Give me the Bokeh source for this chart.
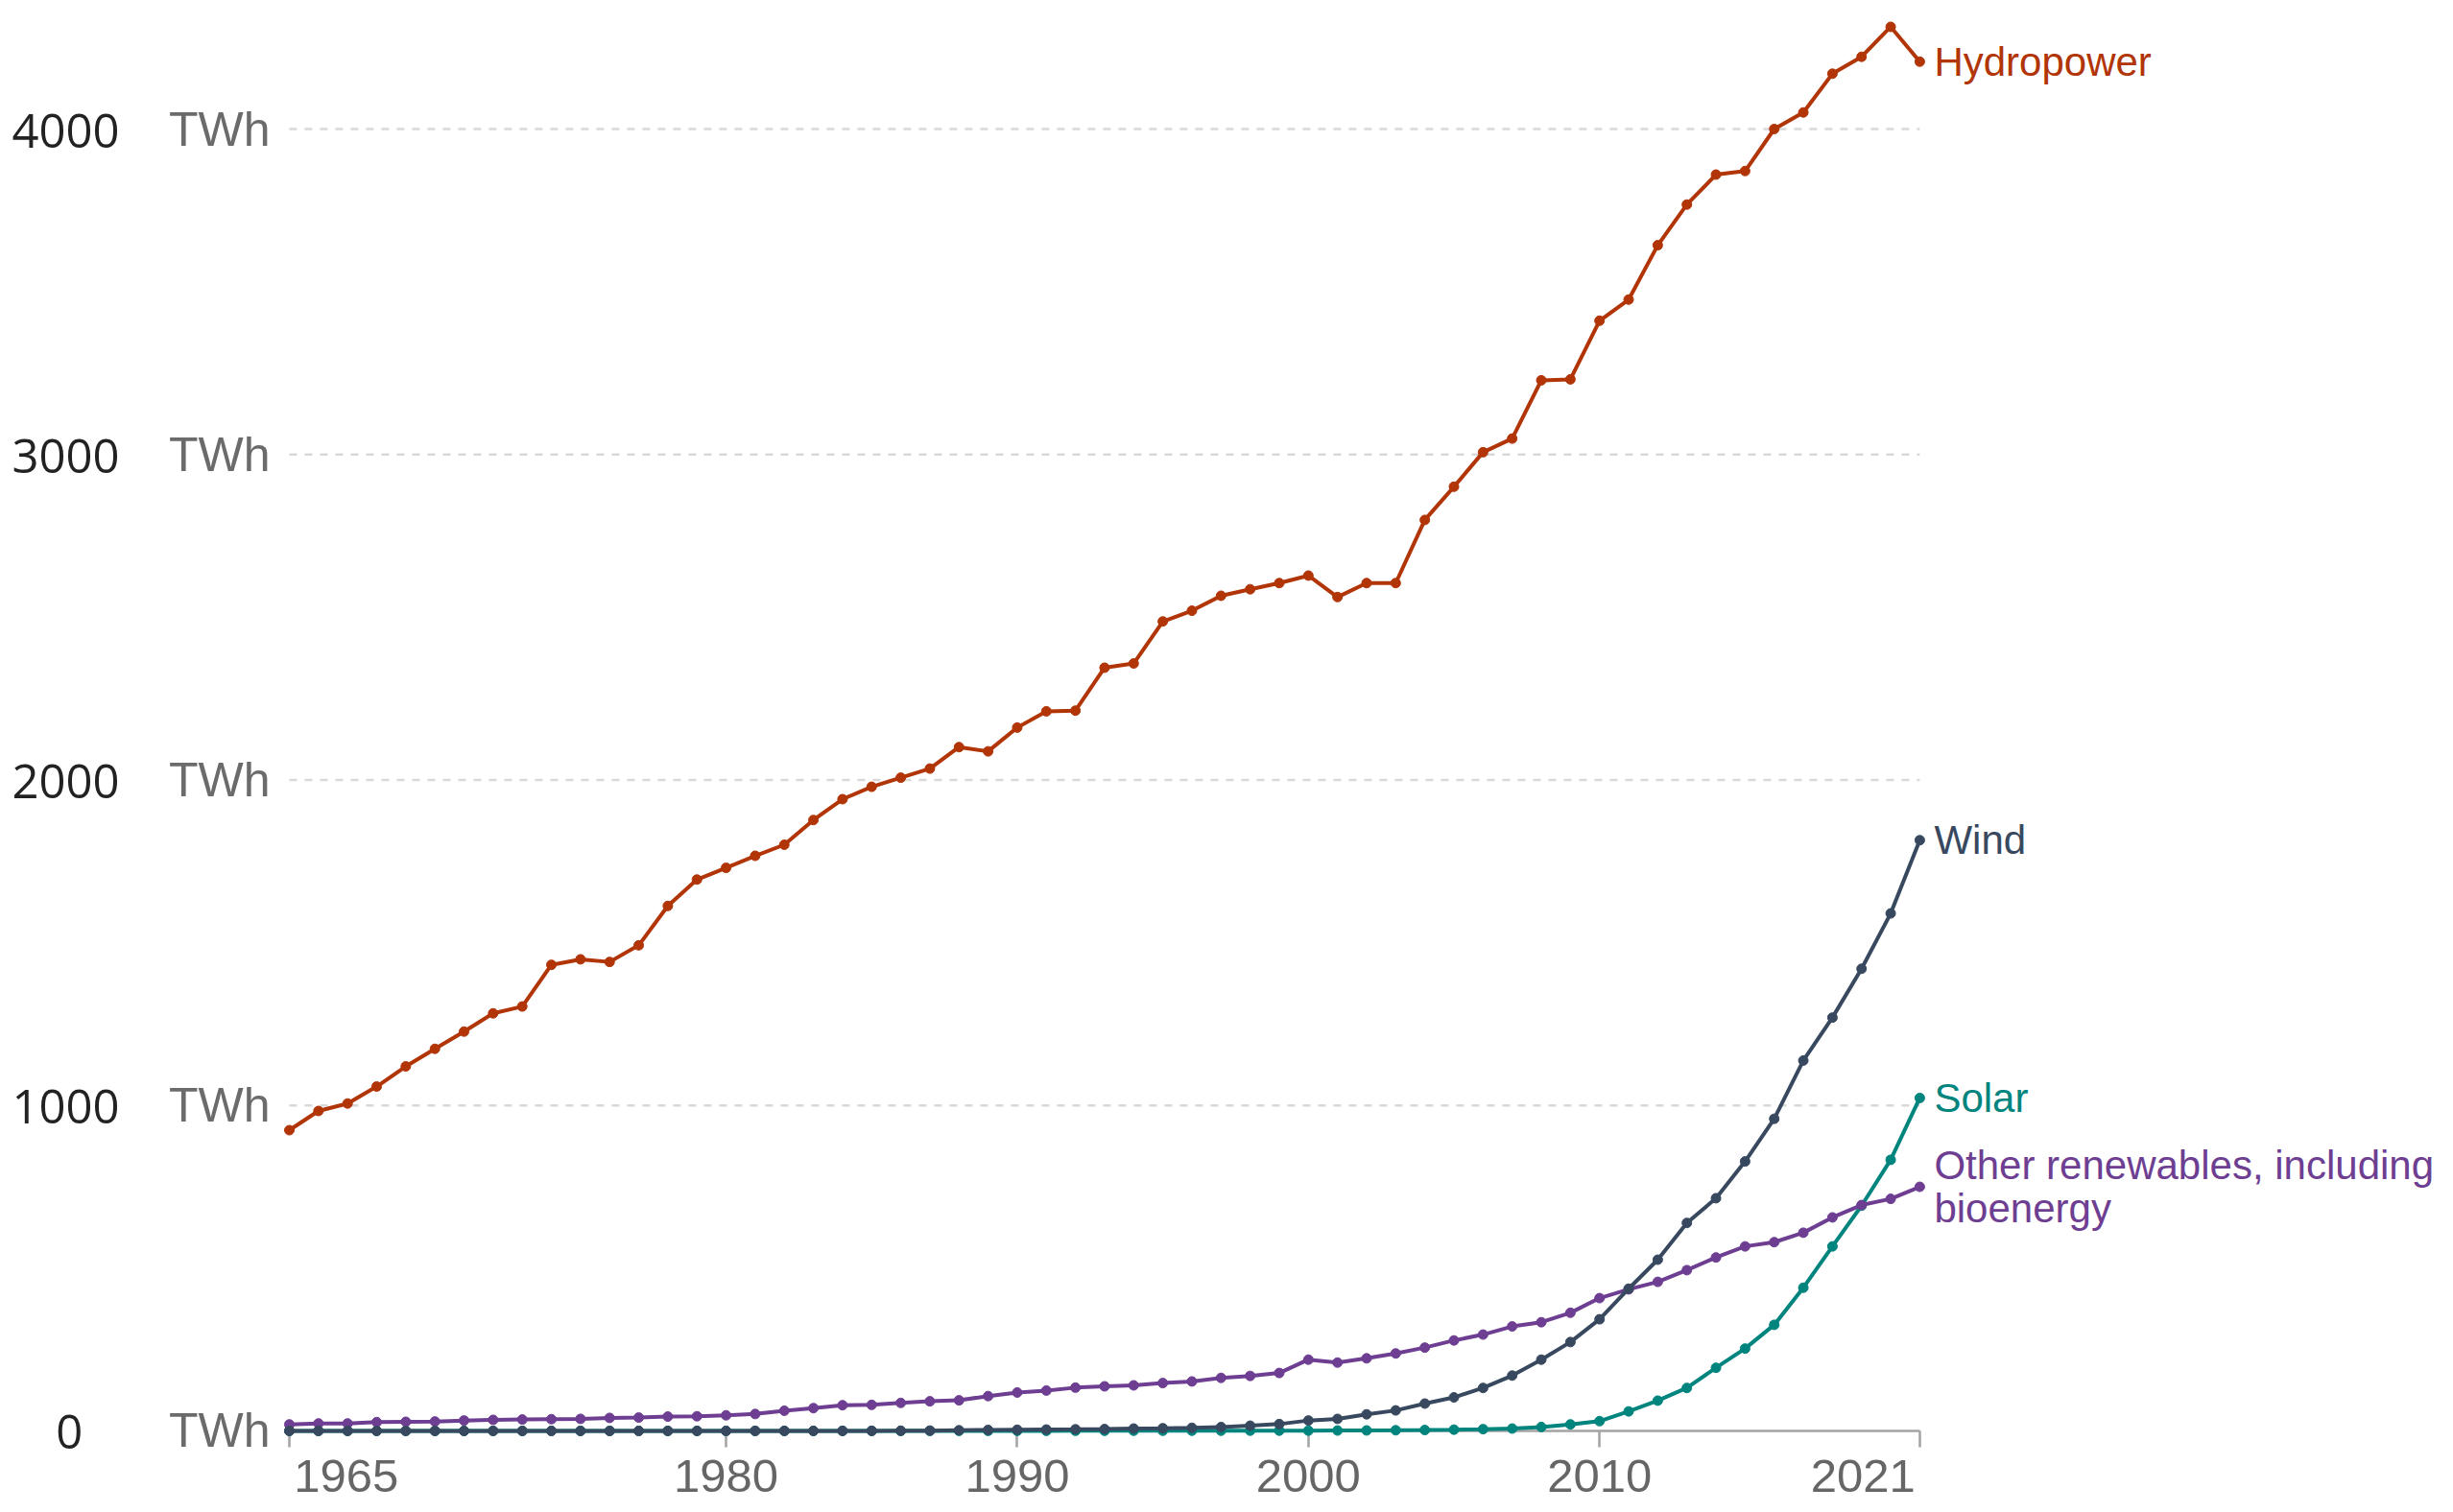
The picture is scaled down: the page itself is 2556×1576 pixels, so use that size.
from bokeh.plotting import figure
from bokeh.models import Range1d, LinearAxis, FixedTicker
from bokeh.embed import file_html
from bokeh.resources import INLINE
from bokeh.core.properties import value

# ---------------- data ----------------
years = list(range(1965, 2022))

hydropower = [924, 983, 1006, 1058, 1120, 1174, 1227, 1283, 1304, 1432,
              1449, 1441, 1492, 1613, 1694, 1730, 1767, 1801, 1877, 1941,
              1979, 2007, 2035, 2101, 2088, 2161, 2211, 2213, 2345, 2358,
              2487, 2520, 2566, 2586, 2605, 2628, 2562, 2605, 2605, 2799,
              2901, 3007, 3049, 3228, 3231, 3411, 3476, 3643, 3768, 3860,
              3871, 4000, 4051, 4170, 4222, 4314, 4207]

wind = [0, 0, 0, 0, 0, 0, 0, 0, 0, 0,
        0, 0, 0, 0, 0, 0, 0, 0, 0.1, 0.2,
        0.3, 0.6, 1, 2, 3, 3.6, 4.2, 4.9, 5.7, 7.3,
        8.3, 9.5, 12, 16, 21, 32, 37, 51, 63, 84,
        103, 132, 170, 219, 273, 343, 437, 526, 639, 715,
        828, 959, 1138, 1270, 1420, 1590, 1815]

solar = [0, 0, 0, 0, 0, 0, 0, 0, 0, 0,
         0, 0, 0, 0, 0, 0, 0, 0, 0, 0,
         0.1, 0.1, 0.1, 0.2, 0.2, 0.3, 0.3, 0.4, 0.4, 0.5,
         0.5, 0.6, 0.7, 0.8, 0.9, 1.0, 1.2, 1.5, 2.0, 2.7,
         3.9, 5.4, 7.3, 12, 20, 30, 60, 93, 132, 194,
         253, 326, 440, 567, 692, 833, 1023]

other = [20, 23, 23, 27, 28, 29, 32, 34, 35, 36,
         37, 40, 41, 44, 45, 48, 52, 62, 70, 79,
         80, 86, 91, 94, 107, 118, 124, 133, 137, 140,
         147, 152, 163, 169, 178, 219, 210, 223, 238, 256,
         278, 296, 321, 334, 363, 408, 435, 458, 494, 533,
         567, 580, 609, 656, 694, 713, 750]

series_names = ["Hydropower", "Wind", "Solar", "Other renewables, including\nbioenergy"]
series_colors = ["#b13507", "#38495f", "#00847e", "#6d3e91"]

y_ticks = [0, 1000, 2000, 3000, 4000]
y_tick_labels = ["0", "1000", "2000", "3000", "4000"]
y_unit = "TWh"
x_ticks = [1965, 1980, 1990, 2000, 2010, 2021]
x_tick_labels = ["1965", "1980", "1990", "2000", "2010", "2021"]

# ---------------- style ----------------
SANS = "Liberation Sans"
NUMFONT = "Open Sans"

p = figure(width=2556, height=1576, output_backend="svg", toolbar_location=None,
           x_range=Range1d(1964.407, 2039.33), y_range=Range1d(-250.6, 4395.0),
           x_axis_location=None, y_axis_location=None,
           min_border_left=283, min_border_right=0, min_border_top=0, min_border_bottom=0)
p.outline_line_color = None
p.grid.visible = False
p.background_fill_color = "white"
p.border_fill_color = "white"

# dashed horizontal grid lines spanning the data years only
grid_vals = y_ticks[1:]
p.segment(x0=[years[0]] * len(grid_vals), x1=[years[-1]] * len(grid_vals),
          y0=grid_vals, y1=grid_vals, line_color="#d9d9d9", line_width=2.5,
          line_dash="8 8", level="underlay")

# y axes: unit labels (inner) and numbers (outer)
twh_axis = LinearAxis(ticker=FixedTicker(ticks=y_ticks),
                      major_label_overrides={t: y_unit for t in y_ticks},
                      axis_line_color=None, major_tick_line_color=None,
                      minor_tick_line_color=None, major_tick_out=0, major_tick_in=0,
                      major_label_standoff=2,
                      major_label_text_font=SANS, major_label_text_font_size="50px",
                      major_label_text_color="#6b6b6b")
p.add_layout(twh_axis, "left")

# numbers are centred in their column in the reference: pad the short one
num_labels = [lab + "\u00a0" * (4 - len(lab)) * 1 if len(lab) < 4 else lab for lab in y_tick_labels]
num_labels = [lab if len(lab) == 4 else y_tick_labels[i] + "\u00a0\u00a0\u00a0\u00a0"
              for i, lab in enumerate(num_labels)]
num_axis = LinearAxis(ticker=FixedTicker(ticks=y_ticks),
                      major_label_overrides=dict(zip(y_ticks, num_labels)),
                      axis_line_color=None, major_tick_line_color=None,
                      minor_tick_line_color=None, major_tick_out=0, major_tick_in=0,
                      major_label_standoff=48,
                      major_label_text_font=NUMFONT, major_label_text_font_size="49px",
                      major_label_text_color="#222222")
p.add_layout(num_axis, "left")

# x axis: line + ticks
x_line_axis = LinearAxis(ticker=FixedTicker(ticks=x_ticks), fixed_location=0,
                         bounds=(x_ticks[0], x_ticks[-1]),
                         axis_line_color="#a3a3a3", axis_line_width=2.5,
                         major_tick_line_color="#a3a3a3", major_tick_line_width=2.5,
                         major_tick_out=17, major_tick_in=0, minor_tick_line_color=None,
                         major_label_overrides={t: "" for t in x_ticks},
                         level="underlay")
p.add_layout(x_line_axis, "below")

# x axis: labels (first label left-aligned to its tick, last right-aligned)
shift = 1.95
label_pos = [x_ticks[0] + shift] + x_ticks[1:-1] + [x_ticks[-1] - shift]
x_label_axis = LinearAxis(ticker=FixedTicker(ticks=label_pos), fixed_location=0,
                          axis_line_color=None, major_tick_line_color=None,
                          minor_tick_line_color=None, major_tick_out=0, major_tick_in=0,
                          major_label_overrides=dict(zip(label_pos, x_tick_labels)),
                          major_label_standoff=31,
                          major_label_text_font=SANS, major_label_text_font_size="49px",
                          major_label_text_color="#666666")
p.add_layout(x_label_axis, "below")

# ---------------- series ----------------
draw_order = [(solar, 2), (other, 3), (wind, 1), (hydropower, 0)]
for vals, i in draw_order:
    c = series_colors[i]
    p.line(years, vals, line_color=c, line_width=4)
    p.scatter(years, vals, size=10, fill_color=c, line_color=c)

label_vals = [hydropower[-1], wind[-1], solar[-1], other[-1]]
for i, name in enumerate(series_names):
    p.text(x=[years[-1]], y=[label_vals[i]], text=[name], x_offset=15,
           text_align="left", text_baseline="middle",
           text_font=value(SANS), text_font_size="42px",
           text_line_height=0.96, text_color=series_colors[i])

open("out.html", "w").write(file_html(p, INLINE))
